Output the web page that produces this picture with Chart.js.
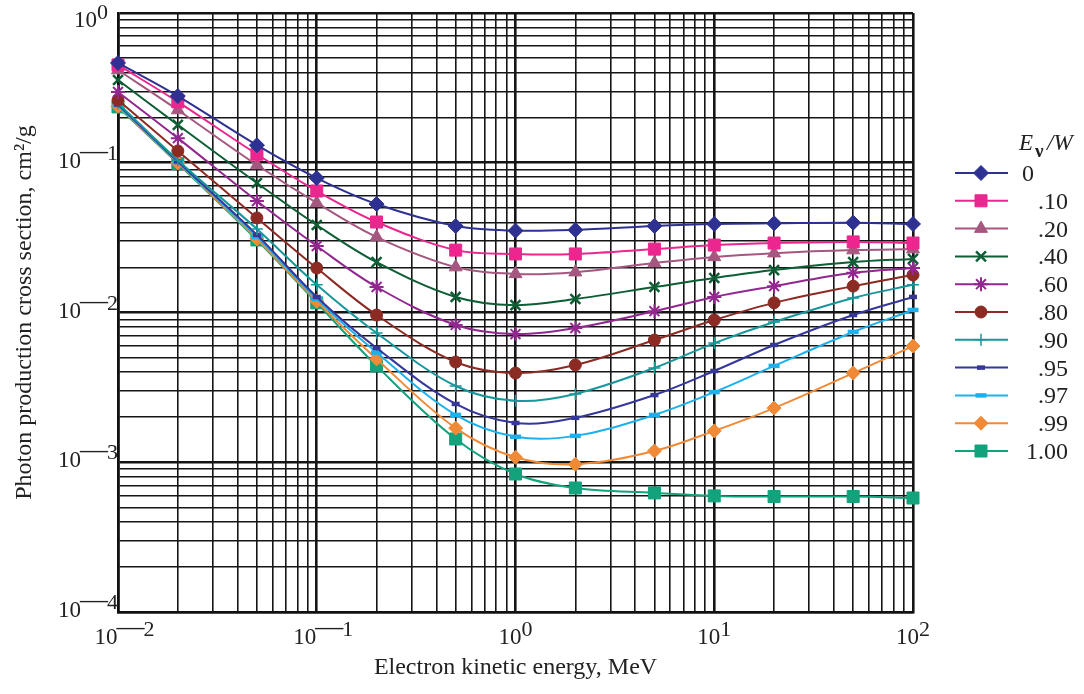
<!DOCTYPE html>
<html>
<head>
<meta charset="utf-8">
<script src="https://cdn.jsdelivr.net/npm/chart.js@4.4.1/dist/chart.umd.min.js"></script>
<style>
  html, body { margin: 0; padding: 0; background: #fff; }
  #wrap { width: 1084px; height: 694px; }
</style>
</head>
<body>
<div id="wrap"><canvas id="chart_photon"></canvas></div>
<script>
// electron kinetic energy, MeV
var energies = [0.01, 0.02, 0.05, 0.1, 0.2, 0.5, 1, 2, 5, 10, 20, 50, 100];
// E_nu / W
var ratioLabels = ['0', '.10', '.20', '.40', '.60', '.80', '.90', '.95', '.97', '.99', '1.00'];

// photon production cross section, cm2/g
var s000 = [0.464, 0.279, 0.131, 0.079, 0.053, 0.0378, 0.0352, 0.0356, 0.0378, 0.039, 0.0394, 0.0398, 0.039];
var s010 = [0.45, 0.255, 0.114, 0.0648, 0.0402, 0.0261, 0.0246, 0.0246, 0.0265, 0.0282, 0.0291, 0.0296, 0.0291];
var s020 = [0.416, 0.225, 0.0966, 0.0539, 0.0319, 0.0201, 0.0181, 0.0186, 0.0214, 0.0235, 0.0249, 0.0261, 0.0265];
var s040 = [0.357, 0.179, 0.0732, 0.0384, 0.0217, 0.0127, 0.0112, 0.0123, 0.0148, 0.017, 0.0192, 0.0217, 0.0228];
var s060 = [0.297, 0.146, 0.0555, 0.0278, 0.0148, 0.00826, 0.00718, 0.00788, 0.0102, 0.0127, 0.015, 0.0184, 0.0198];
var s080 = [0.262, 0.12, 0.0428, 0.0198, 0.00962, 0.00467, 0.00394, 0.00446, 0.00655, 0.00891, 0.0116, 0.015, 0.0178];
var s090 = [0.25, 0.104, 0.0361, 0.0153, 0.0073, 0.00323, 0.00257, 0.00286, 0.00426, 0.00625, 0.00865, 0.0125, 0.0153];
var s095 = [0.245, 0.102, 0.033, 0.0127, 0.0058, 0.00245, 0.00183, 0.00198, 0.00281, 0.00407, 0.00607, 0.00962, 0.0127];
var s097 = [0.242, 0.101, 0.032, 0.0123, 0.0054, 0.00207, 0.00148, 0.0015, 0.00207, 0.00294, 0.0044, 0.00741, 0.0104];
var s099 = [0.238, 0.1, 0.031, 0.0119, 0.0049, 0.00169, 0.00108, 0.00097, 0.00119, 0.00162, 0.0023, 0.00394, 0.00597];
var s100 = [0.236, 0.099, 0.0305, 0.0116, 0.0044, 0.00143, 0.000835, 0.000673, 0.000624, 0.000596, 0.00059, 0.00059, 0.000577];

var xDecades = [-2, -1, 0, 1, 2];
var yDecades = [0, -1, -2, -3, -4];

var serif = "'Liberation Serif', 'Times New Roman', serif";

var styles = [
    { c: '#2e3192', p: 'rectRot', r: 7.5, w: 1 },
    { c: '#ec268f', p: 'rect', r: 8.5, w: 1 },
    { c: '#a5577f', p: 'triangle', r: 7.5, w: 1 },
    { c: '#0d5e35', p: 'crossRot', r: 7, w: 2.5 },
    { c: '#92278f', p: 'star', r: 7, w: 2 },
    { c: '#8c2a24', p: 'circle', r: 6, w: 1 },
    { c: '#17979b', p: 'cross', r: 6, w: 1.5 },
    { c: '#35379a', p: 'line', r: 4, w: 4.5 },
    { c: '#1cb1ec', p: 'line', r: 5.5, w: 4.5 },
    { c: '#f08a36', p: 'rectRot', r: 7, w: 1 },
    { c: '#12a27c', p: 'rect', r: 8.5, w: 1 }
];

var allSeries = [s000, s010, s020, s040, s060, s080, s090, s095, s097, s099, s100];

function pts(vals) {
    return energies.map(function (e, i) { return { x: e, y: vals[i] }; });
}

var datasets = allSeries.map(function (vals, i) {
    var st = styles[i];
    return {
        label: ratioLabels[i],
        data: pts(vals),
        borderColor: st.c,
        backgroundColor: st.c,
        borderWidth: 2,
        tension: 0.35,
        pointStyle: st.p,
        pointRadius: st.r,
        pointBorderWidth: st.w,
        pointBackgroundColor: st.c,
        pointBorderColor: st.c,
        clip: false
    };
});

function logTicks(lo, hi) {
    var t = [];
    for (var e = lo; e < hi; e++) {
        for (var k = 1; k < 10; k++) t.push({ value: k * Math.pow(10, e) });
    }
    t.push({ value: Math.pow(10, hi) });
    return t;
}

function isDecade(v) {
    var l = Math.log10(v);
    return Math.abs(l - Math.round(l)) < 1e-9;
}

var gridOpts = {
    color: '#151515',
    lineWidth: function (c) { return c.tick && isDecade(c.tick.value) ? 2.6 : 1.6; },
    drawTicks: false
};

// draws "10" + raised exponent (long dash for negatives), left edge at x
function drawPower(ctx, n, x, base) {
    var big = '23px ' + serif, small = '22px ' + serif, dash = '28px ' + serif;
    ctx.textAlign = 'left';
    ctx.font = big;
    ctx.fillText('10', x, base);
    x += ctx.measureText('10').width;
    if (n < 0) {
        ctx.font = dash;
        ctx.fillText('\u2014', x - 1, base - 9);
        x += ctx.measureText('\u2014').width - 2;
    }
    ctx.font = small;
    ctx.fillText(String(Math.abs(n)), x, base - 8);
}

function powerWidth(ctx, n) {
    ctx.font = '23px ' + serif;
    var w = ctx.measureText('10').width;
    if (n < 0) { ctx.font = '28px ' + serif; w += ctx.measureText('\u2014').width - 3; }
    ctx.font = '22px ' + serif;
    return w + ctx.measureText(String(Math.abs(n))).width;
}

// tick labels like 10—2 with a raised exponent
var powerLabels = {
    id: 'powerLabels',
    afterDraw: function (chart) {
        var ctx = chart.ctx;
        var xs = chart.scales.x, ys = chart.scales.y;
        ctx.save();
        ctx.fillStyle = '#222';
        ctx.textBaseline = 'alphabetic';

        yDecades.forEach(function (n) {
            var py = ys.getPixelForValue(Math.pow(10, n));
            var right = n === 0 ? 108 : 117;
            var base = n === 0 ? py + 14 : py + 5;
            drawPower(ctx, n, right - powerWidth(ctx, n), base);
        });

        xDecades.forEach(function (n) {
            var px = xs.getPixelForValue(Math.pow(10, n));
            var w = powerWidth(ctx, n);
            drawPower(ctx, n, px - w / 2 + (n < 0 ? 6 : 0), 644);
        });
        ctx.restore();
    }
};

// legend on the right: line with marker, then the label
var sideLegend = {
    id: 'sideLegend',
    afterDraw: function (chart) {
        var ctx = chart.ctx;
        ctx.save();
        ctx.fillStyle = '#222';
        ctx.textBaseline = 'alphabetic';
        ctx.textAlign = 'left';
        ctx.font = 'italic 23px ' + serif;
        ctx.fillText('E', 1019, 150);
        ctx.font = 'bold 19px ' + serif;
        ctx.fillText('\u03BD', 1035, 157);
        ctx.font = 'italic 23px ' + serif;
        ctx.fillText('/W', 1047, 150);

        chart.data.datasets.forEach(function (ds, i) {
            var y = 173 + i * 27.8;
            ctx.strokeStyle = ds.borderColor;
            ctx.lineWidth = 2;
            ctx.beginPath();
            ctx.moveTo(955, y);
            ctx.lineTo(1008, y);
            ctx.stroke();
            ctx.fillStyle = ds.pointBackgroundColor;
            ctx.lineWidth = ds.pointBorderWidth;
            Chart.helpers.drawPoint(ctx, {
                pointStyle: ds.pointStyle,
                radius: ds.pointRadius,
                rotation: 0,
                borderWidth: ds.pointBorderWidth
            }, 981, y);
            ctx.fillStyle = '#222';
            ctx.font = '24px ' + serif;
            if (i === 0) {
                ctx.textAlign = 'left';
                ctx.fillText(ds.label, 1022, y + 8);
            } else {
                ctx.textAlign = 'right';
                ctx.fillText(ds.label, 1068, y + 8);
            }
        });
        ctx.restore();
    }
};

var ctxP = document.getElementById('chart_photon').getContext('2d');
var photonChart = new Chart(ctxP, {
    type: 'line',
    data: { datasets: datasets },
    options: {
        responsive: true,
        maintainAspectRatio: false,
        animation: false,
        layout: { padding: { left: 0, right: 171, top: 13, bottom: 0 } },
        plugins: {
            legend: { display: false },
            tooltip: { enabled: false }
        },
        scales: {
            x: {
                type: 'logarithmic',
                min: 0.01,
                max: 100,
                afterBuildTicks: function (s) { s.ticks = logTicks(-2, 2); },
                afterFit: function (s) { s.height = 82; },
                ticks: { display: false },
                grid: gridOpts,
                border: { display: true, color: '#111', width: 2.6 },
                title: {
                    display: true,
                    text: 'Electron kinetic energy, MeV',
                    color: '#222',
                    font: { family: serif, size: 24 },
                    padding: { top: 0, bottom: 12 }
                }
            },
            y: {
                type: 'logarithmic',
                min: 0.0001,
                max: 1,
                afterBuildTicks: function (s) { s.ticks = logTicks(-4, 0); },
                afterFit: function (s) { s.width = 118; },
                ticks: { display: false },
                grid: gridOpts,
                border: { display: true, color: '#111', width: 2.6 },
                title: {
                    display: true,
                    text: 'Photon production cross section, cm\u00B2/g',
                    color: '#222',
                    font: { family: serif, size: 24 },
                    padding: { top: 10, bottom: 0 }
                }
            }
        }
    },
    plugins: [powerLabels, sideLegend]
});
</script>
</body>
</html>
